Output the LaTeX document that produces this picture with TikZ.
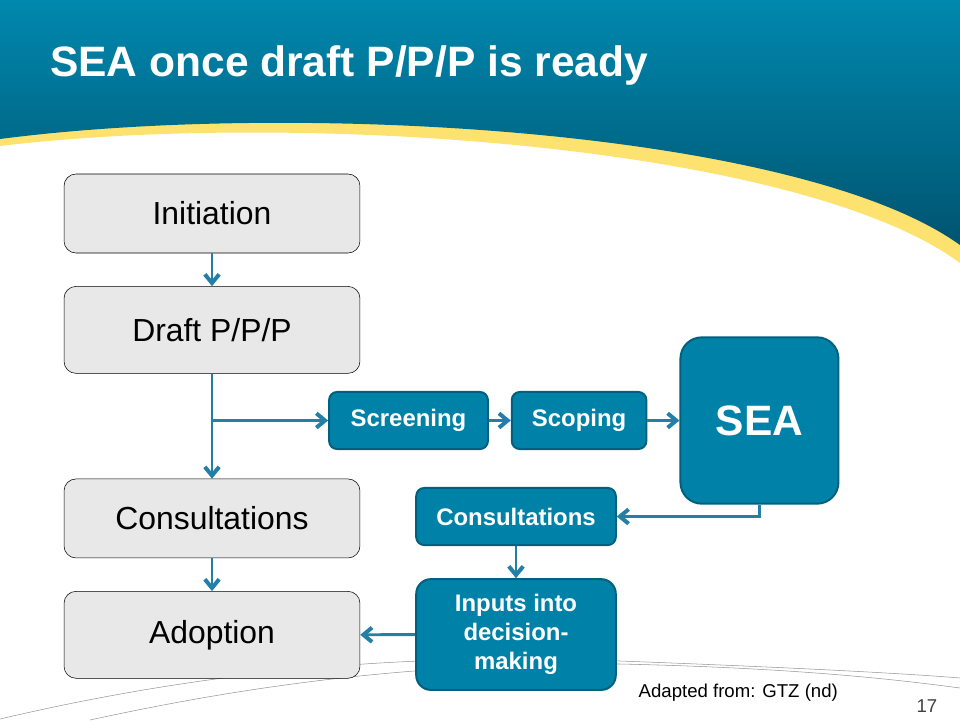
\documentclass[tikz,border=0pt]{standalone}
\usepackage{fontspec}
\setmainfont{Liberation Sans}
\usetikzlibrary{arrows.meta, positioning, calc}

\definecolor{headtop}{RGB}{0,136,174}
\definecolor{headbot}{RGB}{0,84,112}
\definecolor{bandyellow}{RGB}{254,226,112}
\definecolor{boxgray}{RGB}{232,232,232}
\definecolor{bluefill}{RGB}{0,130,168}
\definecolor{blueedge}{RGB}{0,96,126}
\definecolor{arrowblue}{RGB}{34,128,168}
\definecolor{swoosh}{RGB}{150,150,150}

\begin{document}
\begin{tikzpicture}[
  x=0.02646cm, y=-0.02646cm,
  graybox/.style = {
    draw,
    thin,
    fill=boxgray,
    rounded corners=9pt,
    minimum width=7.83cm,
    align=center,
    font=\fontsize{24}{28.8}\selectfont
  },
  bluebox/.style = {
    draw=blueedge,
    line width=1.5pt,
    fill=bluefill,
    text=white,
    rounded corners=6pt,
    minimum height=1.51cm,
    align=center,
    font=\bfseries\fontsize{18}{21.6}\selectfont
  },
  arrow/.style = {
    line width=2.2pt,
    draw=arrowblue,
    -{Straight Barb[length=2.3mm,width=3.8mm,line width=0.8pt 1]}
  },
  node distance=0.87cm and 0.58cm
]

\useasboundingbox (0,0) rectangle (960,720);

% ======================================================
% SLIDE BACKGROUND
% ======================================================

\fill[bandyellow] (0,0) -- (960,0) -- (960,263)
  .. controls (800,145) and (300,110) .. (0,146) -- cycle;
\shade[top color=headtop, bottom color=headbot] (0,0) -- (960,0) -- (960,245)
  .. controls (800,130) and (300,100) .. (0,139) -- cycle;

\draw[swoosh, thin] (0,719) .. controls (200,672) and (400,652) .. (620,661)
  .. controls (780,667) and (900,673) .. (960,678);
\draw[swoosh, thin] (90,720) .. controls (250,685) and (420,662) .. (620,664)
  .. controls (800,668) and (900,680) .. (960,688);

\node[anchor=base west, inner sep=0pt, text=white,
  font=\bfseries\fontsize{32}{38}\selectfont]
  (title) at (50,76) {SEA once draft P/P/P is ready};

% ======================================================
% PLANNING STEPS (left column)
% ======================================================

\node[graybox, minimum height=2.09cm] (init) at (212,213.5) {Initiation};
\node[graybox, minimum height=2.30cm, below=of init] (draft) {Draft P/P/P};
\node[graybox, minimum height=2.09cm, below=2.78cm of draft] (consult) {Consultations};
\node[graybox, minimum height=2.30cm, below=of consult] (adopt) {Adoption};

\draw[arrow] (init.south) -- (draft.north);
\draw[arrow] (draft.south) -- (consult.north);
\draw[arrow] (consult.south) -- (adopt.north);

% ======================================================
% SEA STEPS (blue boxes)
% ======================================================

\node[bluebox, minimum width=4.2cm] (screen) at (408.5,420.5) {Screening};
\node[bluebox, minimum width=3.56cm, right=of screen] (scope) {Scoping};
\node[bluebox, minimum width=4.18cm, minimum height=4.4cm, rounded corners=16pt,
  font=\bfseries\fontsize{32}{38}\selectfont, right=0.85cm of scope] (sea) {SEA};

\node[bluebox, minimum width=5.28cm] (sconsult) at (516,516.5) {Consultations};
\node[bluebox, minimum width=5.28cm, minimum height=2.93cm, rounded corners=11pt,
  below=0.85cm of sconsult] (inputs) {Inputs into\\decision-\\making};

\coordinate (branch) at (draft.south |- screen.west);

\draw[arrow] (branch) -- (screen.west);
\draw[arrow] (screen.east) -- (scope.west);
\draw[arrow] (scope.east) -- (sea.west);
\draw[arrow] (sea.south) |- (sconsult.east);
\draw[arrow] (sconsult.south) -- (inputs.north);
\draw[arrow] (inputs.west) -- (adopt.east);

% ======================================================
% FOOTER
% ======================================================

\node[anchor=base west, font=\fontsize{14}{17}\selectfont] (source) at (634,697)
  {Adapted from: GTZ (nd)};
\node[anchor=base east, text=black!75, font=\fontsize{14}{17}\selectfont] (pagenum)
  at (942,712) {17};

\end{tikzpicture}
\end{document}
